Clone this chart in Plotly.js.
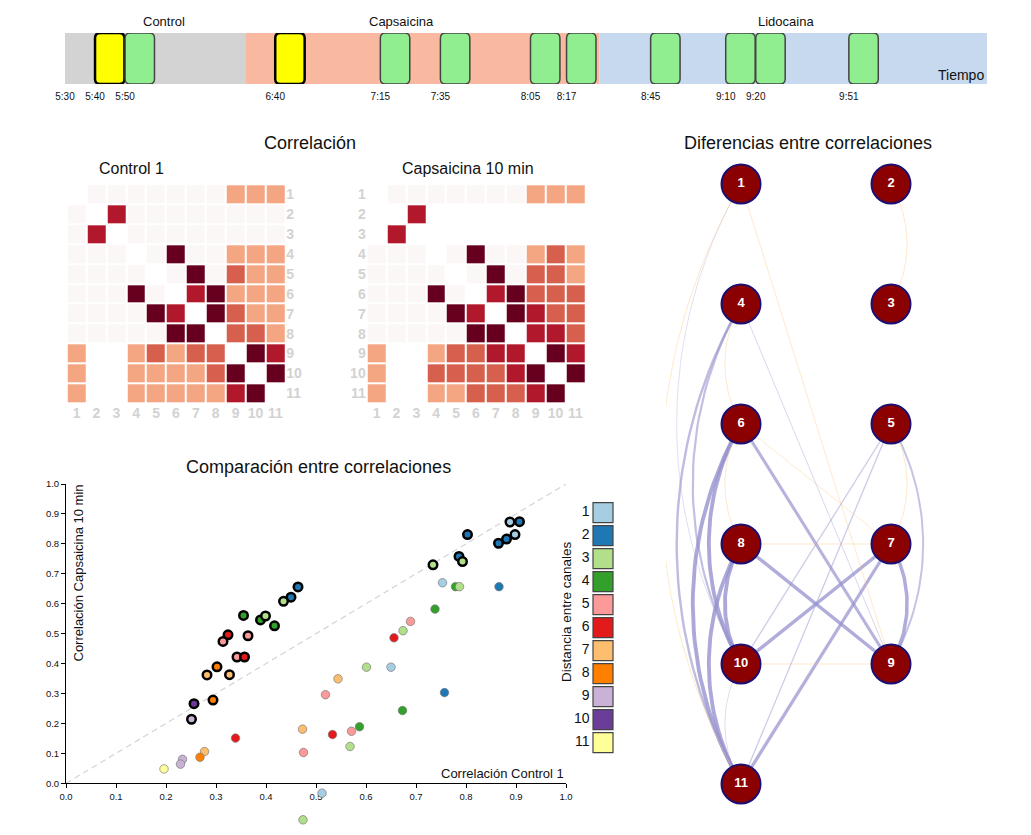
<!DOCTYPE html>
<html><head><meta charset="utf-8">
<script src="https://cdn.plot.ly/plotly-3.0.1.min.js"></script>
<style>html,body{margin:0;padding:0;background:#fff}#chart{width:1031px;height:835px}</style>
</head><body><div id="chart"></div>
<script>
// ---------------- DATA ----------------
// Timeline (minutes counted from the axis start)
const timeStart = "5:30";
const phaseNames = ["Control", "Capsaicina", "Lidocaina"];
const phaseStartTimes = ["5:30", "6:30", "8:28"];
const phaseEndTimes = ["6:30", "8:28", "10:37"];
const phaseLabelTimes = ["6:03", "7:22", "9:30"];
const phaseColors = ["#d3d3d3", "#f8b9a0", "#c6d9ef"];
const sampleTimes = ["5:40", "5:50", "6:40", "7:15", "7:35", "8:05", "8:17", "8:45", "9:10", "9:20", "9:51"];
const sampleIsReference = [true, false, true, false, false, false, false, false, false, false, false];
const sampleDuration = 9.8;

// Correlation matrices (colour level 0..5)
const channels = [1,2,3,4,5,6,7,8,9,10,11];
const control1Levels = [
  [0,1,1,1,1,1,1,1,2,2,2],
  [1,0,4,1,1,1,1,1,1,1,1],
  [1,4,0,1,1,1,1,1,1,1,1],
  [1,1,1,0,1,5,1,1,2,2,2],
  [1,1,1,1,0,1,5,1,3,2,2],
  [1,1,1,5,1,0,4,5,2,2,2],
  [1,1,1,1,5,4,0,5,3,2,2],
  [1,1,1,1,1,5,5,0,3,3,2],
  [2,0,0,2,3,2,3,3,0,5,4],
  [2,0,0,2,2,2,2,3,5,0,5],
  [2,0,0,2,2,2,2,2,4,5,0]
];
const capsaicin10Levels = [
  [0,1,1,1,1,1,1,1,2,2,2],
  [0,0,4,0,0,0,0,0,0,0,0],
  [0,4,0,0,0,0,0,0,0,0,0],
  [1,1,1,0,1,5,1,1,2,3,2],
  [1,1,1,1,0,1,5,1,3,3,2],
  [1,1,1,5,1,0,4,5,3,3,3],
  [1,1,1,1,5,4,0,5,4,3,3],
  [1,1,1,1,1,5,5,0,4,4,3],
  [2,0,0,2,3,3,4,4,0,5,4],
  [2,0,0,3,3,3,3,4,5,0,5],
  [2,0,0,2,2,3,3,3,4,5,0]
];
const levelColors = ["#ffffff", "#fcf7f7", "#f4a582", "#d6604d", "#b2182b", "#67001f"];

// Scatter: correlation per channel pair
const corrControl = [0.464,0.450,0.435,0.355,0.389,0.399,0.417,0.324,0.314,0.364,0.342,0.357,0.282,0.302,0.327,0.256,0.294,0.251,
  0.888,0.907,0.803,0.898,0.881,0.865,0.786,0.793,0.734,
  0.339,0.277,0.268,0.233,0.229,0.196,0.473,0.475,0.519,0.533,0.544,0.512,0.474,
  0.753,0.779,0.787,0.866,0.738,0.689,0.674,0.656,0.601,0.650,0.757,0.673,0.587,0.571,0.568];
const corrCapsaicin = [0.656,0.622,0.608,0.561,0.546,0.559,0.526,0.496,0.474,0.493,0.422,0.422,0.362,0.389,0.363,0.266,0.278,0.214,
  0.873,0.874,0.831,0.831,0.816,0.802,0.758,0.741,0.730,
  0.151,0.106,0.087,0.080,0.064,0.048,0.181,0.103,0.296,0.163,0.349,-0.033,-0.122,
  0.670,0.657,0.657,0.657,0.582,0.541,0.510,0.486,0.388,0.388,0.303,0.243,0.189,0.174,0.123];
const pairDistance = [2,2,3,4,4,3,4,6,5,5,5,6,7,8,7,10,8,9,
  1,2,2,1,2,2,2,3,3,
  6,7,8,9,9,11,7,5,5,6,7,1,3,
  1,4,3,2,4,5,3,6,3,1,2,4,4,5,3];
const pairHighlighted = [1,1,1,1,1,1,1,1,1,1,1,1,1,1,1,1,1,1,
  1,1,1,1,1,1,1,1,1,
  0,0,0,0,0,0,0,0,0,0,0,0,0,
  0,0,0,0,0,0,0,0,0,0,0,0,0,0,0];
const distanceLevels = [1,2,3,4,5,6,7,8,9,10,11];
const distanceColors = ["#a6cee3","#1f78b4","#b2df8a","#33a02c","#fb9a99","#e31a1c","#fdbf6f","#ff7f00","#cab2d6","#6a3d9a","#ffff99"];

// Network of correlation differences
const nodeIds  = [1,2,4,3,6,5,8,7,10,9,11];
const nodeCol  = [0,1,0,1,0,1,0,1,0,1,0];
const nodeRow  = [0,0,1,1,2,2,3,3,4,4,5];
const edgeFrom = [6,6,8,8,8,7,7,7,6,4,4,5,5,5,4,10,1,4,6,6,8,1,1,2,5,10];
const edgeTo   = [10,11,10,11,9,10,11,9,9,10,11,9,10,11,9,11,10,6,8,7,7,9,11,3,7,9];
const edgeDiff = [0.35,0.35,0.35,0.35,0.32,0.32,0.30,0.32,0.28,0.20,0.22,0.18,0.12,0.12,0.08,0.06,0.05,
  -0.06,-0.05,-0.06,-0.06,-0.06,-0.04,-0.05,-0.04,-0.03];

// ---------------- LAYOUT HELPERS ----------------
const W = 1031, H = 835;
const FONT = "Liberation Sans, Arial, sans-serif";
const dx = (a, b) => [a / W, b / W];
const dy = (top, bottom) => [Math.max(0, 1 - bottom / H), 1 - top / H];
const toMin = s => { const p = s.split(":").map(Number); const q = timeStart.split(":").map(Number); return p[0]*60 + p[1] - (q[0]*60 + q[1]); };

const traces = [];
const shapes = [];
const annotations = [];
function note(px, py, text, size, extra) {
  annotations.push(Object.assign({xref: "paper", yref: "paper", x: px / W, y: 1 - py / H, text: text, showarrow: false,
    xanchor: "center", yanchor: "middle", font: {size: size, color: "#111", family: FONT}}, extra || {}));
}

// ---------------- TIMELINE ----------------
const tlRange = [0, toMin(phaseEndTimes[2])];
phaseNames.forEach((n, i) => {
  shapes.push({type: "rect", xref: "x", yref: "y", x0: toMin(phaseStartTimes[i]), x1: toMin(phaseEndTimes[i]), y0: 0, y1: 1,
    fillcolor: phaseColors[i], line: {width: 0}, layer: "below"});
  annotations.push({xref: "x", yref: "paper", x: toMin(phaseLabelTimes[i]), y: 1 - 21 / H, text: n, showarrow: false,
    font: {size: 13, color: "#111", family: FONT}, xanchor: "center", yanchor: "middle"});
});
const rx = 1.7, ry = 0.1;
sampleTimes.forEach((t, i) => {
  const x0 = toMin(t), x1 = x0 + sampleDuration, y0 = 0, y1 = 1;
  const path = `M ${x0+rx},${y0} L ${x1-rx},${y0} Q ${x1},${y0} ${x1},${y0+ry} L ${x1},${y1-ry} Q ${x1},${y1} ${x1-rx},${y1} L ${x0+rx},${y1} Q ${x0},${y1} ${x0},${y1-ry} L ${x0},${y0+ry} Q ${x0},${y0} ${x0+rx},${y0} Z`;
  shapes.push({type: "path", xref: "x", yref: "y", path: path,
    fillcolor: sampleIsReference[i] ? "#ffff00" : "#90ee90",
    line: {color: sampleIsReference[i] ? "#000000" : "#444444", width: sampleIsReference[i] ? 2.5 : 1.5}});
});
note(986, 75, "Tiempo", 14, {xanchor: "right"});
traces.push({type: "scatter", x: [tlRange[0]], y: [0], xaxis: "x", yaxis: "y", mode: "markers", marker: {opacity: 0}, hoverinfo: "skip", showlegend: false});

// ---------------- HEATMAPS ----------------
const cs = [];
levelColors.forEach((c, i) => { cs.push([i / 6, c]); cs.push([(i + 1) / 6, c]); });
function heat(z, xa, ya) {
  return {type: "heatmap", z: z, x: channels, y: channels, xaxis: xa, yaxis: ya, colorscale: cs, zmin: -0.5, zmax: 5.5,
    showscale: false, xgap: 2, ygap: 2, hoverinfo: "skip"};
}
traces.push(heat(control1Levels, "x2", "y2"));
traces.push(heat(capsaicin10Levels, "x3", "y3"));
const hmTickFont = {size: 14, color: "#d2d2d2", family: FONT, weight: "bold"};
const hmAxis = (dom, anchor, extra) => Object.assign({domain: dom, anchor: anchor, range: [0.5, 11.5], tickvals: channels, ticktext: channels.map(String),
  showgrid: false, zeroline: false, showline: false, ticks: "", tickfont: hmTickFont, fixedrange: true}, extra || {});
note(310, 143, "Correlación", 18);
note(131, 168, "Control 1", 16);
note(468, 168, "Capsaicina 10 min", 16);

// ---------------- SCATTER ----------------
traces.push({type: "scatter", x: [0, 1], y: [0, 1], xaxis: "x4", yaxis: "y4", mode: "lines",
  line: {color: "#d4d4d4", width: 1.2, dash: "6px,4px"}, hoverinfo: "skip", showlegend: false});
function scatterGroup(flag) {
  const idx = corrControl.map((_, i) => i).filter(i => pairHighlighted[i] === flag);
  return {type: "scatter", mode: "markers", xaxis: "x4", yaxis: "y7", cliponaxis: false, showlegend: false, hoverinfo: "skip",
    x: idx.map(i => corrControl[i]), y: idx.map(i => corrCapsaicin[i]),
    marker: {size: 8.5, color: idx.map(i => distanceColors[pairDistance[i] - 1]),
      line: {color: flag ? "#000000" : "#7a7a7a", width: flag ? 2.5 : 0.7}}};
}
traces.push(scatterGroup(0));
traces.push(scatterGroup(1));
const scTop = 484, scBottom = 783.3;
const scAxis = (dom, anchor) => ({domain: dom, anchor: anchor, range: [0, 1], dtick: 0.1, tick0: 0, tickformat: ".1f",
  showgrid: false, zeroline: false, showline: true, linecolor: "#000", linewidth: 1, ticks: "outside", ticklen: 4,
  tickcolor: "#000", tickfont: {size: 9.5, color: "#111", family: FONT}, fixedrange: true});
// extended y scale sharing the same mapping so points below 0 are still drawn
const pxPerUnit = scBottom - scTop;
const y7Range = [-(H - scBottom) / pxPerUnit, 1];
note(318, 467, "Comparación entre correlaciones", 18);
note(78, 483, "Correlación Capsaicina 10 min", 13, {textangle: -90, yanchor: "top"});
note(566, 773, "Correlación Control 1", 13, {xanchor: "right"});

// Legend (distance between channels)
traces.push({type: "scatter", mode: "markers+text", xaxis: "x5", yaxis: "y5", cliponaxis: false, showlegend: false, hoverinfo: "skip",
  x: distanceLevels.map(() => 0.5), y: distanceLevels, text: distanceLevels.map(String), textposition: "middle left",
  textfont: {size: 14, color: "#111", family: FONT},
  marker: {symbol: "square", size: 20, color: distanceColors, line: {color: "#444", width: 1.2}}});
note(566, 612, "Distancia entre canales", 13.5, {textangle: -90});

// ---------------- NETWORK ----------------
const netDomX = [666, 966], netDomY = [154, 814];
const netRangeX = [-0.5, 1.5], netRangeY = [5.25, -0.25];
const PX = (netDomX[1] - netDomX[0]) / (netRangeX[1] - netRangeX[0]);
const PY = (netDomY[1] - netDomY[0]) / (netRangeY[0] - netRangeY[1]);
function nodePos(id) { const k = nodeIds.indexOf(id); return [nodeCol[k], nodeRow[k]]; }
edgeFrom.forEach((a, i) => {
  const b = edgeTo[i];
  const p1 = nodePos(a), p2 = nodePos(b);
  let xs = [p1[0], p2[0]], ys = [p1[1], p2[1]];
  if (p1[0] === p2[0]) {
    const dir = p1[0] === 0 ? -1 : 1;
    const ax = p1[0] * PX, ay = p1[1] * PY, bx = p2[0] * PX, by = p2[1] * PY;
    const c = Math.abs(by - ay), R = c;
    const cx = ax - dir * Math.sqrt(R * R - c * c / 4), cy = (ay + by) / 2;
    const t1 = Math.atan2(ay - cy, ax - cx);
    let d = Math.atan2(by - cy, bx - cx) - t1;
    while (d > Math.PI) d -= 2 * Math.PI;
    while (d < -Math.PI) d += 2 * Math.PI;
    xs = []; ys = [];
    for (let k = 0; k <= 40; k++) {
      const t = t1 + d * k / 40;
      xs.push((cx + R * Math.cos(t)) / PX);
      ys.push((cy + R * Math.sin(t)) / PY);
    }
  }
  const v = edgeDiff[i], m = Math.abs(v);
  const color = v > 0 ? `rgba(150,145,205,${Math.min(0.8, 0.3 + m * 1.4).toFixed(2)})` : "rgba(250,200,130,0.5)";
  traces.push({type: "scatter", mode: "lines", x: xs, y: ys, xaxis: "x6", yaxis: "y6", hoverinfo: "skip", showlegend: false,
    line: {color: color, width: Math.max(0.8, m * 11)}});
});
traces.push({type: "scatter", mode: "markers+text", xaxis: "x6", yaxis: "y6", showlegend: false, cliponaxis: false,
  x: nodeCol, y: nodeRow, text: nodeIds.map(String), textposition: "middle center",
  textfont: {size: 13, color: "#ffffff", family: FONT, weight: "bold"},
  marker: {size: 39, color: "#8b0000", line: {color: "#1c0f70", width: 2}}, hoverinfo: "skip"});
note(808, 143, "Diferencias entre correlaciones", 18);

// ---------------- LAYOUT ----------------
const hidden = (dom, anchor, range) => ({domain: dom, anchor: anchor, range: range, visible: false, fixedrange: true});
const layout = {
  width: W, height: H, margin: {l: 0, r: 0, t: 0, b: 0}, paper_bgcolor: "#fff", plot_bgcolor: "rgba(0,0,0,0)",
  showlegend: false, font: {family: FONT, color: "#111"},
  xaxis: {domain: dx(65, 987), anchor: "y", range: tlRange, tickvals: [0].concat(sampleTimes.map(toMin)),
    ticktext: [timeStart].concat(sampleTimes), showgrid: false, zeroline: false, showline: false, ticks: "",
    ticklabelstandoff: 5, tickfont: {size: 10, color: "#111", family: FONT}, fixedrange: true},
  yaxis: hidden(dy(33, 84), "x", [0, 1]),
  xaxis2: hmAxis(dx(66.7, 285.3), "y2"),
  yaxis2: hmAxis(dy(184.3, 403.3), "x2", {range: [11.5, 0.5], side: "right"}),
  xaxis3: hmAxis(dx(366.7, 585.3), "y3"),
  yaxis3: hmAxis(dy(184.3, 403.3), "x3", {range: [11.5, 0.5], side: "left"}),
  xaxis4: scAxis(dx(66, 566), "y4"),
  yaxis4: scAxis(dy(scTop, scBottom), "x4"),
  yaxis7: hidden(dy(scTop, H), "x4", y7Range),
  xaxis5: hidden(dx(593, 613), "y5", [0, 1]),
  yaxis5: hidden(dy(501.2, 754.2), "x5", [11.5, 0.5]),
  xaxis6: hidden(dx(netDomX[0], netDomX[1]), "y6", netRangeX),
  yaxis6: hidden(dy(netDomY[0], netDomY[1]), "x6", netRangeY),
  shapes: shapes, annotations: annotations
};
Plotly.newPlot("chart", traces, layout, {displayModeBar: false, staticPlot: true});
</script>
</body></html>
